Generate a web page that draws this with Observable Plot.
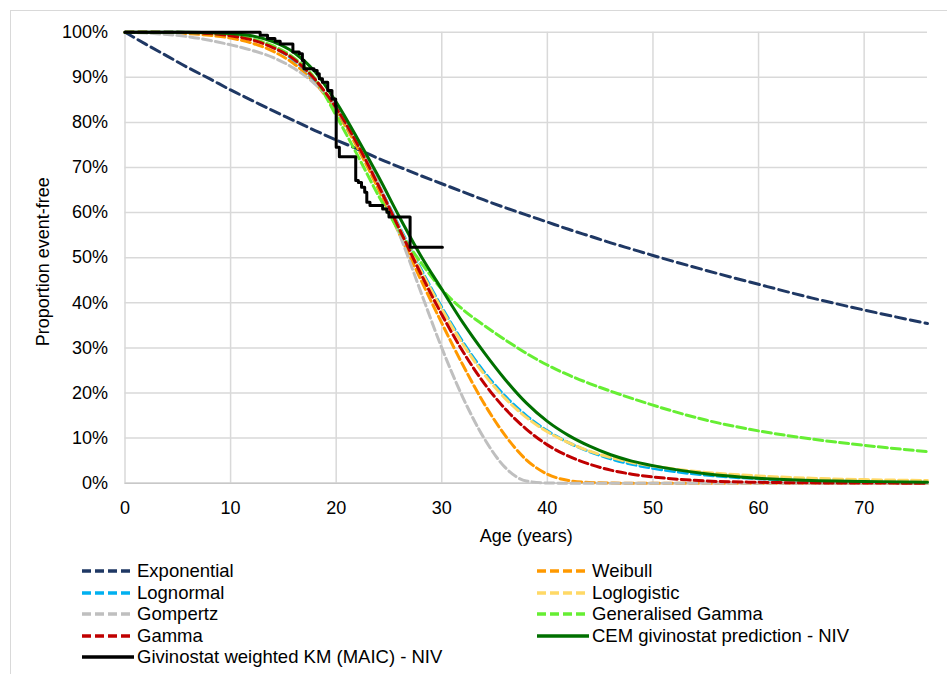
<!DOCTYPE html>
<html><head><meta charset="utf-8">
<script src="https://cdn.jsdelivr.net/npm/d3@7"></script>
<script src="https://cdn.jsdelivr.net/npm/@observablehq/plot@0.6"></script>
<style>
body{margin:0;background:#fff;font-family:Arial,"Liberation Sans",sans-serif;}
#frame{position:absolute;left:10px;top:10px;width:960px;height:700px;border:1px solid #d9d9d9;box-sizing:border-box;}
#chart{position:absolute;left:0;top:0;}
.leg{position:absolute;height:22px;display:flex;align-items:center;font-size:18.5px;color:#000;white-space:nowrap;}
.leg svg{margin-right:3px;}
</style></head><body>
<div id="frame"></div><div id="chart"></div><div id="legend"></div>
<script>
// ---- data ----
const ages = [0,2,4,6,8,10,12,14,16,18,20,22,24,26,28,30,32,34,36,38,40,42,44,46,48,50,55,60,65,70,76];
const exponential = [1.000,0.973,0.947,0.921,0.897,0.872,0.849,0.826,0.804,0.782,0.761,0.741,0.720,0.701,0.682,0.664,0.646,0.628,0.611,0.595,0.579,0.563,0.548,0.533,0.519,0.505,0.472,0.441,0.411,0.384,0.354];
const weibull = [1.000,1.000,0.999,0.997,0.993,0.987,0.976,0.958,0.930,0.887,0.825,0.745,0.652,0.552,0.452,0.355,0.262,0.177,0.106,0.052,0.020,0.006,0.0015,0.0003,0,0,0,0,0,0,0];
const lognormal = [1,1,1,0.9995,0.998,0.994,0.985,0.967,0.938,0.893,0.830,0.752,0.662,0.568,0.476,0.390,0.313,0.247,0.193,0.150,0.116,0.090,0.070,0.054,0.042,0.033,0.018,0.010,0.006,0.0035,0.002];
const loglogistic = [1,1,0.9995,0.999,0.997,0.993,0.985,0.968,0.940,0.895,0.832,0.752,0.660,0.565,0.472,0.386,0.308,0.242,0.188,0.146,0.114,0.090,0.071,0.057,0.046,0.038,0.024,0.016,0.011,0.008,0.006];
const gompertz = [1,0.998,0.995,0.990,0.982,0.972,0.960,0.944,0.920,0.885,0.835,0.762,0.665,0.552,0.425,0.300,0.190,0.100,0.035,0.005,0.0005,0,0,0,0,0,0,0,0,0,0];
const genGamma = [1,1,1,0.999,0.997,0.993,0.985,0.970,0.943,0.897,0.815,0.728,0.638,0.558,0.490,0.430,0.385,0.350,0.318,0.288,0.262,0.240,0.221,0.204,0.188,0.173,0.140,0.116,0.098,0.084,0.070];
const gamma = [1,1,1,0.999,0.997,0.992,0.983,0.966,0.940,0.895,0.832,0.752,0.660,0.563,0.465,0.374,0.292,0.222,0.165,0.120,0.085,0.060,0.042,0.029,0.020,0.014,0.005,0.002,0.0008,0.0003,0.0001];
const cem = [1,1,1,1,0.999,0.997,0.992,0.979,0.955,0.912,0.845,0.765,0.680,0.590,0.505,0.430,0.356,0.290,0.230,0.178,0.137,0.106,0.082,0.063,0.049,0.039,0.021,0.011,0.006,0.004,0.002];
const kmAge = [0,12.8,13.5,14.2,14.7,15.9,16.5,16.8,16.95,17.9,18.2,18.4,18.7,19.2,19.6,19.95,20.0,20.3,21.85,22.1,22.4,22.7,22.9,23.2,24.4,24.8,25.0,27.0,30.06];
const kmSurv = [1,0.993,0.986,0.980,0.974,0.956,0.952,0.937,0.919,0.915,0.908,0.897,0.889,0.871,0.852,0.837,0.745,0.724,0.671,0.667,0.656,0.645,0.623,0.616,0.608,0.601,0.590,0.523,0.523];
const xTicks = [0,10,20,30,40,50,60,70];
const yTicks = [0,0.1,0.2,0.3,0.4,0.5,0.6,0.7,0.8,0.9,1.0];
const seriesNames = ["Exponential","Weibull","Lognormal","Loglogistic","Gompertz","Generalised Gamma","Gamma","CEM givinostat prediction - NIV","Givinostat weighted KM (MAIC) - NIV"];

// ---- styling ----
const styles = [
  {values: exponential, color:"#1f3864", dash:"10,5"},
  {values: weibull, color:"#ff9900", dash:"9,4"},
  {values: lognormal, color:"#00b0f0", dash:"9,4"},
  {values: loglogistic, color:"#ffd966", dash:"9,4"},
  {values: gompertz, color:"#bfbfbf", dash:"9,4"},
  {values: genGamma, color:"#66ee33", dash:"9,4"},
  {values: gamma, color:"#c00000", dash:"9,4"},
  {values: cem, color:"#007000", dash:null}
];
const kmColor = "#000000";

const marks = [
  Plot.gridX(xTicks, {stroke:"#d9d9d9", strokeOpacity:1, strokeWidth:1.5}),
  Plot.gridY(yTicks, {stroke:"#d9d9d9", strokeOpacity:1, strokeWidth:1.5}),
  Plot.ruleY([0], {stroke:"#c8c8c8", strokeWidth:1.5}),
  Plot.axisX(xTicks, {tickSize:0, tickPadding:18, label:null, fill:"#000"}),
  Plot.axisY(yTicks, {tickSize:0, tickPadding:17, label:null, tickFormat: d => Math.round(d*100) + "%", fill:"#000"}),
  Plot.text(["Proportion event-free"], {text: d => d, frameAnchor:"left", textAnchor:"middle", lineAnchor:"middle", rotate:-90, dx:-82, dy:4, fill:"#000"}),
  Plot.text(["Age (years)"], {text: d => d, frameAnchor:"bottom", textAnchor:"middle", lineAnchor:"middle", dy:53, fill:"#000"})
];
styles.forEach(s => {
  marks.push(Plot.line(ages, {x: d => d, y: (d, i) => s.values[i], stroke: s.color, strokeWidth: 3,
    strokeDasharray: s.dash || undefined, curve: "monotone-x"}));
});
marks.push(Plot.line(kmAge, {x: d => d, y: (d, i) => kmSurv[i], stroke: kmColor, strokeWidth: 3, curve: "step-after"}));

const chart = Plot.plot({
  width: 947, height: 550,
  marginLeft: 124.5, marginRight: 20, marginTop: 31.7, marginBottom: 67.3,
  x: {domain: [0, 76]},
  y: {domain: [0, 1]},
  style: {fontFamily: 'Arial, "Liberation Sans", sans-serif', fontSize: "18px", background: "transparent", color: "#000"},
  marks
});
document.getElementById("chart").appendChild(chart);

// ---- legend ----
const legendPos = [
  {col:0,row:0},{col:1,row:0},{col:0,row:1},{col:1,row:1},{col:0,row:2},{col:1,row:2},{col:0,row:3},{col:1,row:3},{col:0,row:4}
];
const colX = [82, 537];
const rowY = [571, 592.5, 614, 635.5, 657];
const legend = document.getElementById("legend");
seriesNames.forEach((name, i) => {
  const st = i < styles.length ? styles[i] : {color: kmColor, dash: null};
  const p = legendPos[i];
  const d = document.createElement("div");
  d.className = "leg";
  d.style.left = colX[p.col] + "px";
  d.style.top = (rowY[p.row] - 11) + "px";
  d.innerHTML = `<svg width="52" height="8"><line x1="0" x2="52" y1="4" y2="4" stroke="${st.color}" stroke-width="3.5" ${st.dash ? `stroke-dasharray="9,4"` : ""}/></svg><span>${name}</span>`;
  legend.appendChild(d);
});
</script>
</body></html>
